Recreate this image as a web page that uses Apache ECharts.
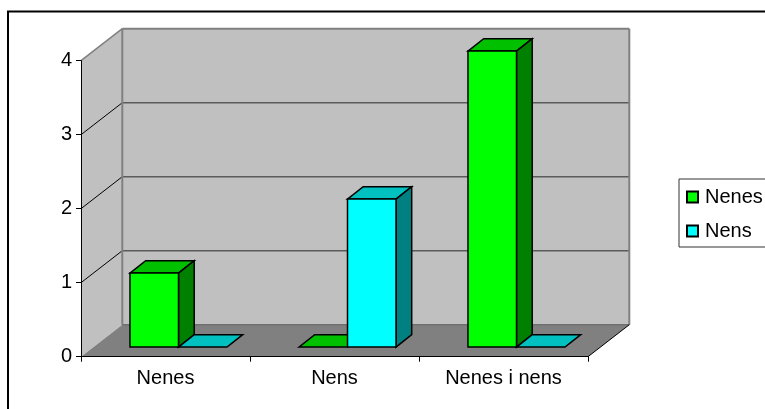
<!DOCTYPE html>
<html>
<head>
<meta charset="utf-8">
<style>
html,body{margin:0;padding:0;background:#fff;overflow:hidden}
#chart{width:765px;height:409px}
</style>
<script src="https://cdn.jsdelivr.net/npm/echarts@6/dist/echarts.min.js"></script>
</head>
<body>
<div id="chart"></div>
<script>
var categories = ['Nenes', 'Nens', 'Nenes i nens'];
var nenes = [1, 0, 4];
var nens = [0, 2, 0];
var yTicks = [0, 1, 2, 3, 4];

// depth of the fake 3d box, in pixels
var wallDx = 41.3, wallDy = 32;
var barDx = 15.7, barDy = 12.4;
var barOffX = 13, barOffY = 9.6;
var barWidth = 48.5;

var chart = echarts.init(document.getElementById('chart'));

function poly(points, fill, stroke, lw) {
	return {
		type: 'polygon',
		shape: {points: points},
		style: {fill: fill, stroke: stroke || null, lineWidth: lw || 0}
	};
}

function line(a, b, color, lw) {
	return {
		type: 'line',
		shape: {x1: a[0], y1: a[1], x2: b[0], y2: b[1]},
		style: {stroke: color, lineWidth: lw, fill: null}
	};
}

// left wall, back wall, floor and the grid lines running over them
function renderWalls(params, api) {
	var band = api.size([1, 0])[0];
	var x0 = api.coord([0, 0])[0] - band / 2;
	var x1 = api.coord([2, 0])[0] + band / 2;
	var yb = api.coord([0, 0])[1];
	var yt = api.coord([0, 4])[1];
	var kids = [
		poly([[x0, yt], [x0 + wallDx, yt - wallDy], [x0 + wallDx, yb - wallDy], [x0, yb]], '#c0c0c0'),
		poly([[x0 + wallDx, yt - wallDy], [x1 + wallDx, yt - wallDy], [x1 + wallDx, yb - wallDy], [x0 + wallDx, yb - wallDy]], '#c0c0c0'),
		poly([[x0, yb], [x0 + wallDx, yb - wallDy], [x1 + wallDx, yb - wallDy], [x1, yb]], '#808080')
	];
	yTicks.forEach(function (t) {
		var y = api.coord([0, t])[1];
		if (t > 0 && t < 4) {
			kids.push(line([x0 + wallDx, y - wallDy], [x1 + wallDx, y - wallDy], '#5a5a5a', 1.5));
			kids.push(line([x0, y], [x0 + wallDx, y - wallDy], '#000', 1));
		}
	});
	kids.push(line([x0, yt], [x0 + wallDx, yt - wallDy], '#808080', 1.5));
	kids.push(line([x0 + wallDx, yt - wallDy], [x1 + wallDx, yt - wallDy], '#808080', 2));
	kids.push(line([x1 + wallDx, yt - wallDy], [x1 + wallDx, yb - wallDy], '#808080', 2));
	kids.push(line([x0 + wallDx, yt - wallDy], [x0 + wallDx, yb - wallDy], '#808080', 2));
	kids.push(line([x0 + wallDx, yb - wallDy], [x1 + wallDx, yb - wallDy], '#707070', 1.5));
	kids.push(line([x1, yb], [x1 + wallDx, yb - wallDy], '#000', 1));
	return {type: 'group', children: kids};
}

function makeBarRender(slot, front, top, side) {
	return function (params, api) {
		var base = api.coord([api.value(0), 0]);
		var head = api.coord([api.value(0), api.value(1)]);
		var xl = base[0] - barWidth + slot * barWidth + barOffX;
		var xr = xl + barWidth;
		var yb = base[1] - barOffY;
		var yt = head[1] - barOffY;
		var kids = [
			poly([[xl, yt], [xl + barDx, yt - barDy], [xr + barDx, yt - barDy], [xr, yt]], top, '#000', 1.5)
		];
		if (yb - yt > 0.5) {
			kids.push(poly([[xr, yt], [xr + barDx, yt - barDy], [xr + barDx, yb - barDy], [xr, yb]], side, '#000', 1.5));
			kids.push(poly([[xl, yt], [xr, yt], [xr, yb], [xl, yb]], front, '#000', 1.5));
		}
		return {type: 'group', children: kids};
	};
}

var font = '"Liberation Sans", Arial, sans-serif';

var option = {
	backgroundColor: '#fff',
	animation: false,
	graphic: [{
		type: 'rect',
		shape: {x: 8, y: 11.5, width: 800, height: 440},
		style: {fill: null, stroke: '#000', lineWidth: 2},
		silent: true
	}],
	grid: {left: 81, top: 60.7, width: 507, height: 296},
	legend: {
		data: ['Nenes', 'Nens'],
		orient: 'vertical',
		left: 679,
		top: 179,
		padding: [8, 14, 6, 7],
		itemWidth: 11,
		itemHeight: 11,
		itemGap: 14,
		borderColor: '#333',
		borderWidth: 1,
		backgroundColor: '#fff',
		textStyle: {fontFamily: font, fontSize: 20, color: '#000', padding: [0, 0, 0, 2]},
		icon: 'rect'
	},
	xAxis: {
		type: 'category',
		data: categories,
		z: 5,
		axisLine: {lineStyle: {color: '#000', width: 1}},
		axisTick: {show: true, length: 5, lineStyle: {color: '#000'}},
		axisLabel: {fontFamily: font, fontSize: 20, color: '#000', margin: 12},
		splitLine: {show: false}
	},
	yAxis: {
		type: 'value',
		min: 0,
		max: 4,
		interval: 1,
		z: 5,
		axisLine: {show: true, lineStyle: {color: '#000', width: 1}},
		axisTick: {show: true, length: 5, lineStyle: {color: '#000'}},
		axisLabel: {fontFamily: font, fontSize: 20, color: '#000', margin: 9},
		splitLine: {show: false}
	},
	series: [
		{
			type: 'custom',
			name: 'walls',
			silent: true,
			z: 1,
			renderItem: renderWalls,
			data: [[0, 0]]
		},
		{
			type: 'custom',
			name: 'Nenes',
			z: 2,
			renderItem: makeBarRender(0, '#00ff00', '#00c000', '#008000'),
			itemStyle: {color: '#00ff00', borderColor: '#000', borderWidth: 1.5},
			encode: {x: 0, y: 1},
			data: nenes.map(function (v, i) { return [i, v]; })
		},
		{
			type: 'custom',
			name: 'Nens',
			z: 2,
			renderItem: makeBarRender(1, '#00ffff', '#00c0c0', '#008080'),
			itemStyle: {color: '#00ffff', borderColor: '#000', borderWidth: 1.5},
			encode: {x: 0, y: 1},
			data: nens.map(function (v, i) { return [i, v]; })
		}
	]
};
chart.setOption(option);
</script>
</body>
</html>
